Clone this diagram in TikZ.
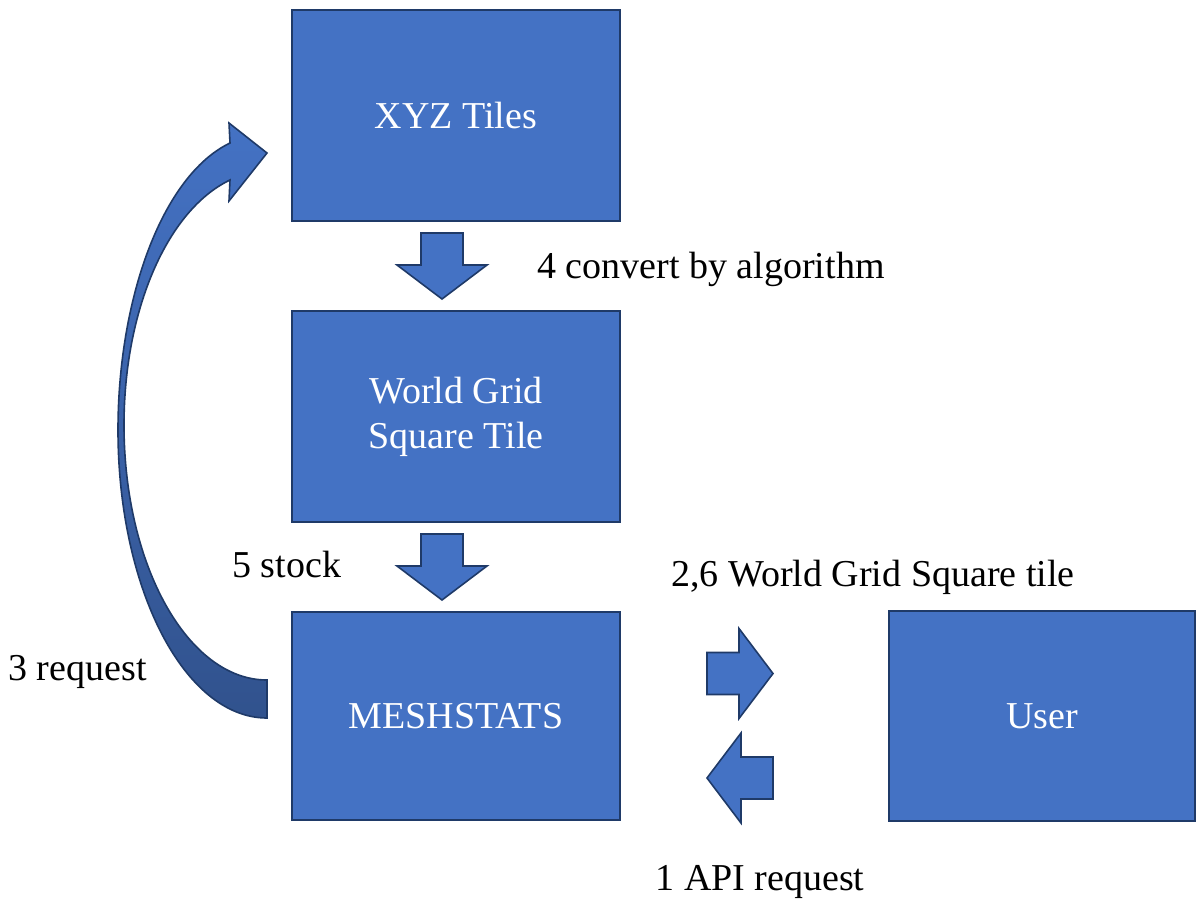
\documentclass[tikz,border=0pt]{standalone}
\usepackage{fontspec}
\setmainfont{Liberation Serif}
\usetikzlibrary{positioning,calc}
\definecolor{boxblue}{HTML}{4472C4}
\definecolor{boxedge}{HTML}{1F3A68}

\begin{document}
\begin{tikzpicture}[
    x=0.5pt, y=-0.5pt,
    node distance=45pt and 134.5pt, % Vertical and horizontal distances
    block/.style={rectangle, draw=boxedge, line width=1pt, outer sep=0pt, fill=boxblue, text=white, align=center, minimum width=164pt, minimum height=105.5pt, font=\fontsize{19}{22.5}\selectfont},
    lbl/.style={inner sep=0pt, font=\fontsize{19}{22.5}\selectfont},
    fat/.style={draw=boxedge, line width=0.8pt, fill=boxblue, line join=miter},
    curvedfat/.style={draw=boxedge, line width=0.8pt, top color=boxblue, bottom color=boxblue!72!black},
    fatarrow/.pic={\path[fat] (-33,-21) -- (-1,-21) -- (-1,-45) -- (33,0) -- (-1,45) -- (-1,21) -- (-33,21) -- cycle;}
]
    \useasboundingbox (0,0) rectangle (1200,912);

    % Nodes
    \node (xyz) [block] at (456,115.5) {XYZ Tiles};
    \node (wgs) [block, below=of xyz] {World Grid\\Square Tile};
    \node (mesh) [block, below=of wgs, minimum height=104pt] {MESHSTATS};
    \node (user) [block, right=of mesh, minimum width=153pt, minimum height=105pt] {User};

    % Labels
    \node (convlbl) [lbl, anchor=base west] at ($(xyz.south)+(81,57)$) {4 convert by algorithm};
    \node (stocklbl) [lbl, anchor=base west] at ($(wgs.south)+(-224,55)$) {5 stock};
    \node (tilelbl) [lbl, anchor=base] at ($(mesh.north east)+(253,-26)$) {2,6 World Grid Square tile};
    \node (reqlbl) [lbl, anchor=base west] at ($(mesh.west)+(-284,-36)$) {3 request};
    \node (apilbl) [lbl, anchor=base] at ($(mesh.south east)+(140,70)$) {1 API request};

    % Connections
    \pic[rotate=-90] at ($(xyz.south)!0.5!(wgs.north)+(-14,0)$) {fatarrow};
    \pic[rotate=-90] at ($(wgs.south)!0.5!(mesh.north)+(-14,0)$) {fatarrow};
    \pic at ($(mesh.east)+(120,-42.5)$) {fatarrow};
    \pic[rotate=180] at ($(mesh.east)+(120,62)$) {fatarrow};

    % Curved request arrow
    \coordinate (cb) at ($(mesh.west)+(-25,0)$);
    \begin{scope}[shift={(cb)}]
        \path[curvedfat] (0,2) .. controls (-82.3,2) and (-149,-127) .. (-149,-286)
            .. controls (-149,-417.5) and (-104.8,-540.4) .. (-37,-573)
            -- (-38,-593) -- (0,-563) -- (-38,-515) -- (-37,-536)
            .. controls (-99.5,-506.1) and (-143,-406.4) .. (-143,-291)
            .. controls (-143,-150.2) and (-78.9,-36) .. (0,-36) -- cycle;
    \end{scope}

\end{tikzpicture}
\end{document}
